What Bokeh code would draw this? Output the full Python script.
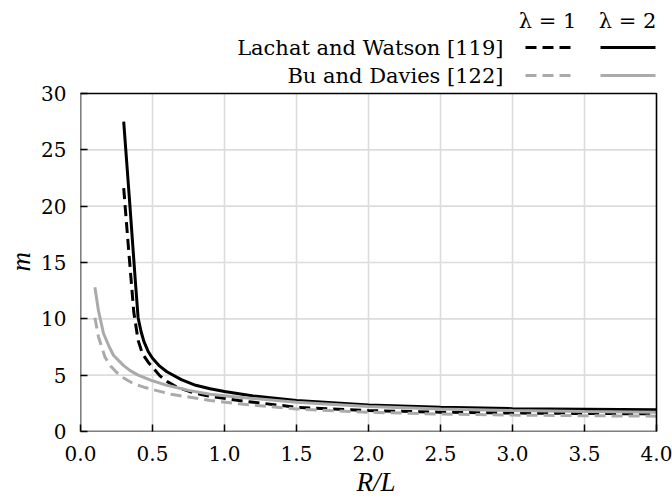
from bokeh.plotting import figure
from bokeh.models import Range1d, FixedTicker, Title
from bokeh.core.properties import value
from bokeh.embed import file_html
from bokeh.resources import INLINE

# ---- data ----
lw_x2 = [0.30, 0.34, 0.38, 0.40, 0.42, 0.44, 0.47, 0.50, 0.55, 0.60, 0.70, 0.80, 0.90, 1.00, 1.20, 1.50, 2.00, 2.50, 3.00, 3.50, 4.00]
lw_y2 = [27.5, 20.6, 13.5, 10.1, 8.9, 8.0, 7.1, 6.5, 5.8, 5.3, 4.6, 4.1, 3.8, 3.55, 3.15, 2.75, 2.36, 2.15, 2.03, 1.97, 1.92]

lw_x1 = [0.30, 0.335, 0.37, 0.40, 0.43, 0.47, 0.55, 0.60, 0.67, 0.77, 0.87, 1.10, 1.50, 2.00, 2.50, 3.00, 3.50, 4.00]
lw_y1 = [21.6, 16.0, 10.6, 8.1, 6.9, 6.15, 4.96, 4.45, 3.93, 3.5, 3.19, 2.75, 2.15, 1.86, 1.71, 1.64, 1.60, 1.57]

bd_x2 = [0.10, 0.125, 0.16, 0.20, 0.23, 0.30, 0.345, 0.40, 0.50, 0.60, 0.75, 0.90, 1.10, 1.50, 2.00, 2.50, 3.00, 3.50, 4.00]
bd_y2 = [12.8, 10.7, 8.7, 7.5, 6.75, 5.85, 5.4, 5.0, 4.5, 4.1, 3.65, 3.3, 3.04, 2.6, 2.22, 2.0, 1.87, 1.78, 1.71]

bd_x1 = [0.10, 0.125, 0.17, 0.21, 0.25, 0.30, 0.37, 0.45, 0.53, 0.63, 0.76, 0.90, 1.10, 1.50, 2.00, 2.50, 3.00, 3.50, 4.00]
bd_y1 = [10.1, 8.4, 6.6, 5.8, 5.26, 4.75, 4.23, 3.9, 3.63, 3.3, 3.04, 2.75, 2.46, 2.0, 1.71, 1.55, 1.46, 1.40, 1.36]

x_ticks = [0.0, 0.5, 1.0, 1.5, 2.0, 2.5, 3.0, 3.5, 4.0]
y_ticks = [0, 5, 10, 15, 20, 25, 30]
series_names = ["Lachat and Watson [119]", "Bu and Davies [122]"]
lambda_labels = ["λ = 1", "λ = 2"]

# ---- layout constants (page pixels) ----
W, H = 672, 502
FL, FR_AX, FT_AX, FB = 80, 656, 93, 431     # where x=0..4 and y=0..30 sit
FRAME_R, FRAME_T = 671, 2                   # frame extended for the legend
XMAX, YMAX = 4.0, 30.0
SX = (FR_AX - FL) / XMAX
SY = (FB - FT_AX) / YMAX
SERIF = "DejaVu Serif"
ITALIC = "Times New Roman"
BLACK = "#000000"
GRAY = "#aaaaaa"
DASH = "11 6"

def X(px):
    return (px - FL) / SX

def Y(py):
    return (FB - py) / SY

p = figure(width=W, height=H, output_backend="svg", toolbar_location=None,
           x_range=Range1d(0, X(FRAME_R)), y_range=Range1d(0, Y(FRAME_T)),
           min_border_left=FL, min_border_right=W - FRAME_R,
           min_border_top=FRAME_T, min_border_bottom=H - FB)
p.outline_line_color = None
p.grid.visible = False

for ax in (p.xaxis[0], p.yaxis[0]):
    ax.axis_line_color = None
    ax.major_tick_in = 7
    ax.major_tick_out = 0
    ax.major_tick_line_width = 1.5
    ax.major_tick_line_color = BLACK
    ax.minor_tick_line_color = None
    ax.major_label_text_font = SERIF
    ax.major_label_text_font_size = "20px"
    ax.major_label_text_color = BLACK

p.xaxis.ticker = FixedTicker(ticks=x_ticks)
p.yaxis.ticker = FixedTicker(ticks=y_ticks)
p.xaxis.major_label_overrides = {t: f"{t:.1f}" for t in x_ticks}
p.xaxis.major_label_standoff = 14
p.yaxis.major_label_standoff = 14
p.xaxis.axis_label = "R/L"
p.xaxis.axis_label_standoff = 3
p.xaxis.axis_label_text_font = ITALIC
p.xaxis.axis_label_text_font_style = "italic"
p.xaxis.axis_label_text_font_size = "27px"
p.xaxis.axis_label_text_color = BLACK

p.add_layout(Title(text="m", align="left", offset=160, vertical_align="middle",
                   text_font=ITALIC, text_font_style="italic", text_font_size="27px",
                   text_color=BLACK, standoff=4), "left")

# grid lines and plotting box
gx = x_ticks[1:-1]
gy = y_ticks[1:-1]
p.segment(x0=gx, x1=gx, y0=[0] * len(gx), y1=[YMAX] * len(gx),
          line_color="#dcdcdc", line_width=1.6)
p.segment(x0=[0] * len(gy), x1=[XMAX] * len(gy), y0=gy, y1=gy,
          line_color="#dcdcdc", line_width=1.6)

# curves
p.line(lw_x1, lw_y1, line_color=BLACK, line_width=3, line_dash=DASH)
p.line(lw_x2, lw_y2, line_color=BLACK, line_width=3)
p.line(bd_x1, bd_y1, line_color=GRAY, line_width=3, line_dash=DASH)
p.line(bd_x2, bd_y2, line_color=GRAY, line_width=3)

p.line([0, XMAX, XMAX, 0, 0], [0, 0, YMAX, YMAX, 0], line_color=BLACK, line_width=1.6)

# legend
row_y = [Y(47), Y(75)]
colors = [BLACK, GRAY]
p.text(x=[X(503)] * 2, y=row_y, text=series_names, text_font=value(SERIF),
       text_font_size="21px", text_align="right", text_baseline="middle",
       text_color=BLACK)
for yy, c in zip(row_y, colors):
    p.line([X(525), X(572)], [yy, yy], line_color=c, line_width=3, line_dash=DASH)
    p.line([X(600), X(655)], [yy, yy], line_color=c, line_width=3)
p.text(x=[X(547), X(627)], y=[Y(20)] * 2, text=lambda_labels, text_font=value(SERIF),
       text_font_size="21px", text_align="center", text_baseline="middle",
       text_color=BLACK)

open("out.html", "w").write(file_html(p, INLINE))
